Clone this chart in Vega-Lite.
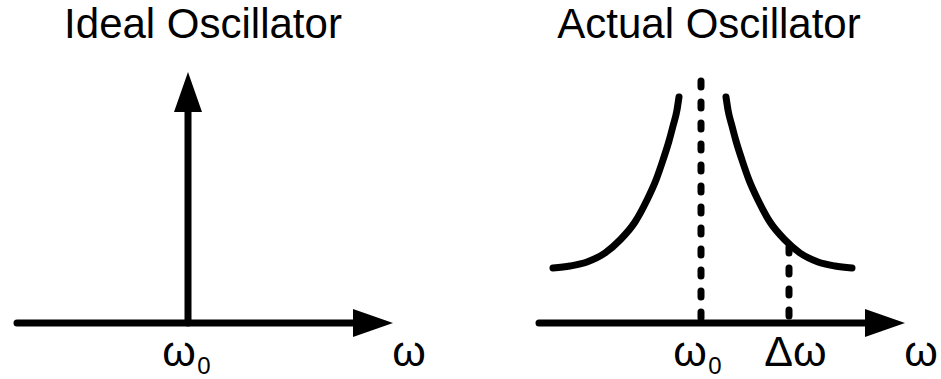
{
  "$schema": "https://vega.github.io/schema/vega-lite/v6.json",
  "width": 941,
  "height": 379,
  "padding": 0,
  "autosize": "none",
  "background": "white",
  "config": {"view": {"stroke": null}},
  "datasets": {
    "solid": [
      {"x": 17, "y": 323, "x2": 362, "y2": 323},
      {"x": 188, "y": 323, "x2": 188, "y2": 110},
      {"x": 539, "y": 323, "x2": 868, "y2": 323}
    ],
    "dashed": [
      {"x": 701, "y": 81, "x2": 701, "y2": 321},
      {"x": 789, "y": 247, "x2": 789, "y2": 321}
    ],
    "curves": [
      {"curve": "left", "x": 553, "y": 268},
      {"curve": "left", "x": 570, "y": 266},
      {"curve": "left", "x": 587, "y": 262},
      {"curve": "left", "x": 605, "y": 253},
      {"curve": "left", "x": 620, "y": 240},
      {"curve": "left", "x": 635, "y": 222},
      {"curve": "left", "x": 647, "y": 200},
      {"curve": "left", "x": 656, "y": 180},
      {"curve": "left", "x": 663, "y": 160},
      {"curve": "left", "x": 669, "y": 141},
      {"curve": "left", "x": 673, "y": 126},
      {"curve": "left", "x": 677, "y": 110},
      {"curve": "left", "x": 679, "y": 97},
      {"curve": "right", "x": 726, "y": 97},
      {"curve": "right", "x": 728, "y": 110},
      {"curve": "right", "x": 732, "y": 126},
      {"curve": "right", "x": 736, "y": 141},
      {"curve": "right", "x": 742, "y": 160},
      {"curve": "right", "x": 749, "y": 180},
      {"curve": "right", "x": 758, "y": 200},
      {"curve": "right", "x": 770, "y": 222},
      {"curve": "right", "x": 785, "y": 240},
      {"curve": "right", "x": 800, "y": 253},
      {"curve": "right", "x": 818, "y": 262},
      {"curve": "right", "x": 835, "y": 266},
      {"curve": "right", "x": 852, "y": 268}
    ],
    "rightArrows": [
      {"x": 373, "y": 323},
      {"x": 885, "y": 323}
    ],
    "upArrows": [
      {"x": 188, "y": 92}
    ],
    "titles": [
      {"label": "Ideal Oscillator", "x": 203, "y": 38},
      {"label": "Actual Oscillator", "x": 709, "y": 38}
    ],
    "labels": [
      {"label": "ω", "x": 179, "y": 366},
      {"label": "ω", "x": 409, "y": 366},
      {"label": "ω", "x": 690, "y": 366},
      {"label": "Δω", "x": 795.5, "y": 366},
      {"label": "ω", "x": 921, "y": 366}
    ],
    "subscripts": [
      {"label": "0", "x": 204, "y": 374},
      {"label": "0", "x": 715, "y": 374}
    ]
  },
  "layer": [
    {
      "data": {"name": "solid"},
      "mark": {"type": "rule", "strokeWidth": 7, "strokeCap": "round", "color": "black"},
      "encoding": {
        "x": {"field": "x", "type": "quantitative", "scale": {"domain": [0, 941], "nice": false, "zero": false}, "axis": null},
        "y": {"field": "y", "type": "quantitative", "scale": {"domain": [0, 379], "nice": false, "zero": false, "reverse": true}, "axis": null},
        "x2": {"field": "x2"},
        "y2": {"field": "y2"}
      }
    },
    {
      "data": {"name": "dashed"},
      "mark": {"type": "rule", "strokeWidth": 7, "strokeCap": "round", "strokeDash": [6, 15], "color": "black"},
      "encoding": {
        "x": {"field": "x", "type": "quantitative"},
        "y": {"field": "y", "type": "quantitative"},
        "x2": {"field": "x2"},
        "y2": {"field": "y2"}
      }
    },
    {
      "data": {"name": "curves"},
      "mark": {"type": "line", "strokeWidth": 7, "strokeCap": "round", "interpolate": "monotone", "color": "black"},
      "encoding": {
        "x": {"field": "x", "type": "quantitative"},
        "y": {"field": "y", "type": "quantitative"},
        "detail": {"field": "curve"}
      }
    },
    {
      "data": {"name": "rightArrows"},
      "mark": {"type": "point", "shape": "M-1,-0.7L1,0L-1,0.7Z", "size": 1600, "filled": true, "opacity": 1, "color": "black", "strokeWidth": 0},
      "encoding": {
        "x": {"field": "x", "type": "quantitative"},
        "y": {"field": "y", "type": "quantitative"}
      }
    },
    {
      "data": {"name": "upArrows"},
      "mark": {"type": "point", "shape": "M-1,-0.7L1,0L-1,0.7Z", "size": 1600, "angle": 270, "filled": true, "opacity": 1, "color": "black", "strokeWidth": 0},
      "encoding": {
        "x": {"field": "x", "type": "quantitative"},
        "y": {"field": "y", "type": "quantitative"}
      }
    },
    {
      "data": {"name": "titles"},
      "mark": {"type": "text", "font": "Liberation Sans", "fontSize": 42, "baseline": "alphabetic", "align": "center", "color": "black"},
      "encoding": {
        "x": {"field": "x", "type": "quantitative"},
        "y": {"field": "y", "type": "quantitative"},
        "text": {"field": "label"}
      }
    },
    {
      "data": {"name": "labels"},
      "mark": {"type": "text", "font": "Liberation Sans", "fontSize": 43, "baseline": "alphabetic", "align": "center", "color": "black"},
      "encoding": {
        "x": {"field": "x", "type": "quantitative"},
        "y": {"field": "y", "type": "quantitative"},
        "text": {"field": "label"}
      }
    },
    {
      "data": {"name": "subscripts"},
      "mark": {"type": "text", "font": "Liberation Sans", "fontSize": 24, "baseline": "alphabetic", "align": "center", "color": "black"},
      "encoding": {
        "x": {"field": "x", "type": "quantitative"},
        "y": {"field": "y", "type": "quantitative"},
        "text": {"field": "label"}
      }
    }
  ]
}
